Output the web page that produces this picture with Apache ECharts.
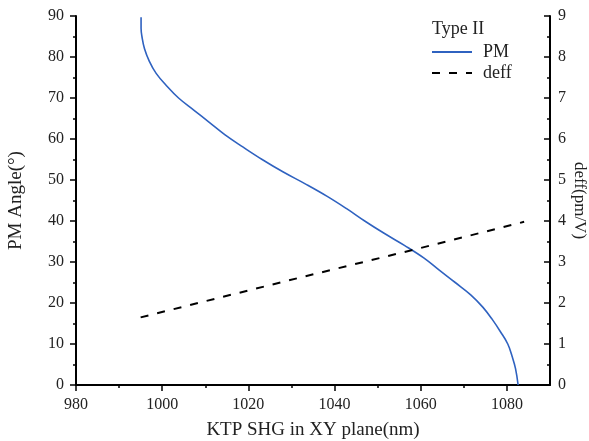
<!DOCTYPE html>
<html>
<head>
<meta charset="utf-8">
<script src="https://cdn.jsdelivr.net/npm/echarts@6/dist/echarts.min.js"></script>
<style>
  html, body { margin: 0; padding: 0; background: #fff; }
  #chart { width: 589px; height: 441px; }
</style>
</head>
<body>
<div id="chart"></div>
<script>
// PM 曲线：波长 (nm) 与相位匹配角 (°)
const pmWavelength = [995.1, 995.1, 995.3, 995.9, 997.0, 998.6, 1001.0, 1003.8, 1007.4, 1011.0,
  1014.6, 1018.8, 1023.2, 1028.0, 1033.3, 1038.3, 1042.8, 1047.0, 1051.5, 1056.3,
  1060.7, 1064.3, 1068.0, 1071.6, 1074.4, 1076.6, 1078.5, 1080.2, 1081.2, 1082.0, 1082.6];
const pmAngle = [89.7, 87, 85, 82, 79, 76, 73, 70, 67, 64,
  61, 58, 55, 52, 49, 46, 43, 40, 37, 34,
  31, 28, 25, 22, 19, 16, 13, 10, 7, 4, 0];

// deff 曲线：波长 (nm) 与有效非线性系数 (pm/V)
const deffWavelength = [995, 1032, 1058.4, 1084];
const deffValue = [1.65, 2.62, 3.30, 3.98];

// 坐标轴刻度
const xTicks = [980, 1000, 1020, 1040, 1060, 1080];

const chart = echarts.init(document.getElementById('chart'));

const font = 'Liberation Serif';
const textColor = '#222';

const option = {
  animation: false,
  title: {
    text: 'Type II',
    left: 432,
    top: 20,
    padding: 0,
    textStyle: { fontFamily: font, fontSize: 18, fontWeight: 'normal', color: textColor }
  },
  legend: {
    orient: 'vertical',
    left: 431,
    top: 43,
    padding: 0,
    itemWidth: 40,
    itemHeight: 14,
    itemGap: 3,
    data: ['PM', 'deff'],
    itemStyle: { opacity: 0 },
    textStyle: { fontFamily: font, fontSize: 18, color: textColor, padding: [0, 0, 0, 6] }
  },
  grid: { left: 76, right: 39, top: 16, bottom: 56, outerBoundsMode: 'none', containLabel: false },
  xAxis: [{
    type: 'value',
    min: 980,
    max: 1090,
    interval: 20,
    name: 'KTP SHG in XY plane(nm)',
    nameLocation: 'middle',
    nameMoveOverlap: false,
    nameGap: 36,
    nameTextStyle: { fontFamily: font, fontSize: 19, color: textColor },
    axisLine: { lineStyle: { color: '#000', width: 2 } },
    axisTick: { customValues: xTicks, length: 6, lineStyle: { color: '#000', width: 1.5 } },
    minorTick: { show: true, splitNumber: 2, length: 3, lineStyle: { color: '#000', width: 1.5 } },
    axisLabel: {
      customValues: xTicks, margin: 12, fontFamily: font, fontSize: 16, color: textColor,
      formatter: v => String(v)
    },
    splitLine: { show: false }
  }],
  yAxis: [{
    type: 'value',
    position: 'left',
    min: 0,
    max: 90,
    interval: 10,
    name: 'PM Angle(°)',
    nameLocation: 'middle',
    nameMoveOverlap: false,
    nameRotate: 90,
    nameGap: 50,
    nameTextStyle: { fontFamily: font, fontSize: 19, color: textColor },
    axisLine: { show: true, lineStyle: { color: '#000', width: 2 } },
    axisTick: { show: true, length: 6, lineStyle: { color: '#000', width: 1.5 } },
    minorTick: { show: true, splitNumber: 2, length: 3, lineStyle: { color: '#000', width: 1.5 } },
    axisLabel: { margin: 12, fontFamily: font, fontSize: 16, color: textColor },
    splitLine: { show: false }
  }, {
    type: 'value',
    position: 'right',
    min: 0,
    max: 9,
    interval: 1,
    name: 'deff(pm/V)',
    nameLocation: 'middle',
    nameMoveOverlap: false,
    nameRotate: -90,
    nameGap: 21,
    nameTextStyle: { fontFamily: font, fontSize: 17, color: textColor },
    axisLine: { show: true, lineStyle: { color: '#000', width: 2 } },
    axisTick: { show: true, inside: true, length: 6, lineStyle: { color: '#000', width: 1.5 } },
    minorTick: { show: true, splitNumber: 2, length: 3, lineStyle: { color: '#000', width: 1.5 } },
    axisLabel: { margin: 8, fontFamily: font, fontSize: 16, color: textColor },
    splitLine: { show: false }
  }],
  series: [{
    name: 'PM',
    type: 'line',
    yAxisIndex: 0,
    smooth: 0.4,
    symbol: 'none',
    lineStyle: { color: '#2f62c0', width: 1.6 },
    itemStyle: { color: '#2f62c0' },
    data: pmWavelength.map((w, i) => [w, pmAngle[i]])
  }, {
    name: 'deff',
    type: 'line',
    yAxisIndex: 1,
    symbol: 'none',
    lineStyle: { color: '#000', width: 2, type: [8, 9] },
    itemStyle: { color: '#000' },
    data: deffWavelength.map((w, i) => [w, deffValue[i]])
  }]
};

chart.setOption(option);
</script>
</body>
</html>
